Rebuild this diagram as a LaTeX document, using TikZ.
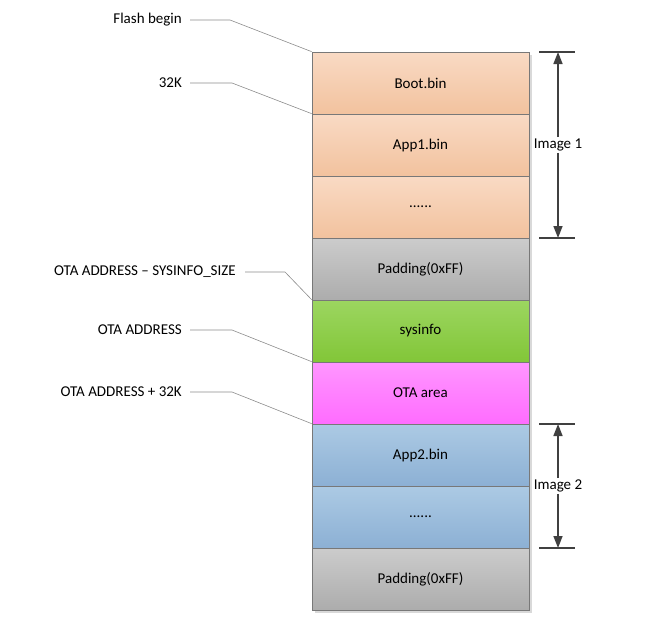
\documentclass[tikz,border=0pt]{standalone}
\usepackage{fontspec}
\setmainfont{Carlito}
\usetikzlibrary{arrows.meta,shadows}
\definecolor{peachT}{RGB}{249,218,196}
\definecolor{peachB}{RGB}{242,194,158}
\definecolor{grayT}{RGB}{204,204,204}
\definecolor{grayB}{RGB}{172,172,172}
\definecolor{greenT}{RGB}{156,214,96}
\definecolor{greenB}{RGB}{130,198,56}
\definecolor{pinkT}{RGB}{255,150,255}
\definecolor{pinkB}{RGB}{255,108,255}
\definecolor{blueT}{RGB}{172,202,228}
\definecolor{blueB}{RGB}{140,176,212}
\definecolor{edge}{RGB}{120,120,120}
\definecolor{leadc}{RGB}{140,140,140}
\definecolor{arrc}{RGB}{64,64,64}
\tikzset{
  memrow/.style={draw=edge, line width=0.7pt, minimum width=217pt, minimum height=62pt,
    inner sep=0pt, font=\fontsize{15}{18}\selectfont,
    drop shadow={shadow xshift=2.5pt, shadow yshift=-2.5pt, fill=black!25, opacity=0.6}},
  peach/.style={memrow, top color=peachT, bottom color=peachB},
  grayrow/.style={memrow, top color=grayT, bottom color=grayB},
  greenrow/.style={memrow, top color=greenT, bottom color=greenB},
  pinkrow/.style={memrow, top color=pinkT, bottom color=pinkB},
  bluerow/.style={memrow, top color=blueT, bottom color=blueB},
  addr/.style={anchor=east, inner sep=0pt, font=\fontsize{15}{18}\selectfont},
  leader/.style={draw=leadc, line width=0.6pt},
  tick/.style={draw=arrc, line width=1.6pt},
  dimarrow/.style={draw=arrc, line width=1.6pt, -{Triangle[length=12pt,width=9pt]}},
  imglabel/.style={fill=white, inner sep=1.5pt, font=\fontsize{15}{18}\selectfont},
}
\begin{document}
\begin{tikzpicture}[x=1pt,y=-1pt]
\useasboundingbox (0,0) rectangle (669,624);
% memory rows
\node[peach]    (r1) at (420.5,83)  {Boot.bin};
\node[peach]    (r2) at (420.5,145) {App1.bin};
\node[peach]    (r3) at (420.5,207) {......};
\node[grayrow]  (r4) at (420.5,269) {Padding(0xFF)};
\node[greenrow] (r5) at (420.5,331) {sysinfo};
\node[pinkrow]  (r6) at (420.5,393) {OTA area};
\node[bluerow]  (r7) at (420.5,455) {App2.bin};
\node[bluerow]  (r8) at (420.5,517) {......};
\node[grayrow]  (r9) at (420.5,579) {Padding(0xFF)};
% address labels
\node[addr] (a1) at (182,20)  {Flash begin};
\node[addr] (a2) at (182,83)  {32K};
\node[addr] (a3) at (236,272) {OTA ADDRESS – SYSINFO\_SIZE};
\node[addr] (a4) at (182,330) {OTA ADDRESS};
\node[addr] (a5) at (182,392) {OTA ADDRESS + 32K};
\draw[leader] ([xshift=8pt]a1.east) -- ++(40,0) -- (r1.north west);
\draw[leader] ([xshift=8pt]a2.east) -- ++(42,0) -- (r2.north west);
\draw[leader] ([xshift=9pt]a3.east) -- ++(40,0) -- (r5.north west);
\draw[leader] ([xshift=8pt]a4.east) -- ++(42,0) -- (r6.north west);
\draw[leader] ([xshift=8pt]a5.east) -- ++(42,0) -- (r7.north west);
% image 1 dimension
\coordinate (t1a) at (539,52);  \coordinate (t1b) at (575,52);
\coordinate (b1a) at (539,238); \coordinate (b1b) at (575,238);
\draw[tick] (t1a) -- (t1b);
\draw[tick] (b1a) -- (b1b);
\node[imglabel] (i1) at (558,145) {Image 1};
\draw[dimarrow] (i1.north) -- (558,52);
\draw[dimarrow] (i1.south) -- (558,238);
% image 2 dimension
\coordinate (t2a) at (539,424); \coordinate (t2b) at (575,424);
\coordinate (b2a) at (539,548); \coordinate (b2b) at (575,548);
\draw[tick] (t2a) -- (t2b);
\draw[tick] (b2a) -- (b2b);
\node[imglabel] (i2) at (558,486) {Image 2};
\draw[dimarrow] (i2.north) -- (558,424);
\draw[dimarrow] (i2.south) -- (558,548);
\end{tikzpicture}
\end{document}
